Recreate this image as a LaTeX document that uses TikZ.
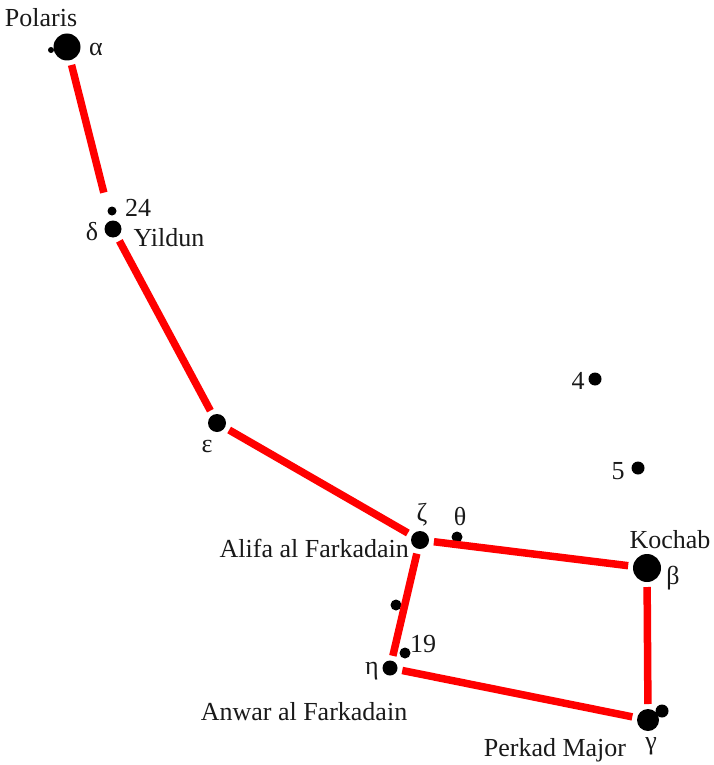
\documentclass[tikz,border=0pt]{standalone}
\usepackage{fontspec}
\setmainfont{Liberation Serif}
\usetikzlibrary{positioning}

\begin{document}
\begin{tikzpicture}[
    x=1pt, y=-1pt,
    star/.style={circle, fill=black, inner sep=0pt, outer sep=5pt, minimum size=#1},
    star/.default=12pt,
    lbl/.style={inner sep=0pt, font=\fontsize{26}{30}\selectfont, text=black!90},
    link/.style={red, line width=7.5pt}
]
\useasboundingbox (0,0) rectangle (713,765);

\node[star=27pt] (alpha) at (67,47) {};
\node[star=6pt] (alphaB) at (51,50) {};
\node[star=9pt] (s24) at (112,211) {};
\node[star=17pt] (delta) at (113,229) {};
\node[star=18pt] (eps) at (217,423) {};
\node[star=18pt] (zeta) at (420,540) {};
\node[star=11pt] (theta) at (457,537) {};
\node[star=28pt] (beta) at (647,568) {};
\node[star=13pt] (s4) at (595,379) {};
\node[star=13pt] (s5) at (638,468) {};
\node[star=11pt] (sx) at (396,605) {};
\node[star=11pt] (s19) at (405,653) {};
\node[star=15pt] (eta) at (390,668) {};
\node[star=22pt] (gamma) at (648,720) {};
\node[star=13pt] (gammaB) at (662,711) {};

\node[lbl] (lpolaris) at (41,18) {Polaris};
\node[lbl] (lalpha) at (96,49) {α};
\node[lbl] (l24) at (138,208) {24};
\node[lbl] (ldelta) at (92,232) {δ};
\node[lbl] (lyildun) at (169,238) {Yildun};
\node[lbl] (leps) at (207,446) {ε};
\node[lbl] (lzeta) at (422,515) {ζ};
\node[lbl] (ltheta) at (460,517) {θ};
\node[lbl, anchor=east] (lalifa) at (409,548) {Alifa al Farkadain};
\node[lbl] (lkochab) at (670,540) {Kochab};
\node[lbl] (lbeta) at (673,578) {β};
\node[lbl] (l4) at (578,381) {4};
\node[lbl] (l5) at (618,471) {5};
\node[lbl] (l19) at (423,644) {19};
\node[lbl] (leta) at (372,671) {η};
\node[lbl] (lanwar) at (304,712) {Anwar al Farkadain};
\node[lbl] (lgamma) at (651,746) {γ};
\node[lbl] (lperkad) at (555,750) {Perkad Major};

\draw[link, shorten >=24pt] (alpha) -- (delta);
\draw[link] (delta) -- (eps);
\draw[link] (eps) -- (zeta);
\draw[link] (zeta) -- (beta);
\draw[link] (zeta) -- (eta);
\draw[link] (beta) -- (gamma);
\draw[link] (eta) -- (gamma);
\end{tikzpicture}
\end{document}
